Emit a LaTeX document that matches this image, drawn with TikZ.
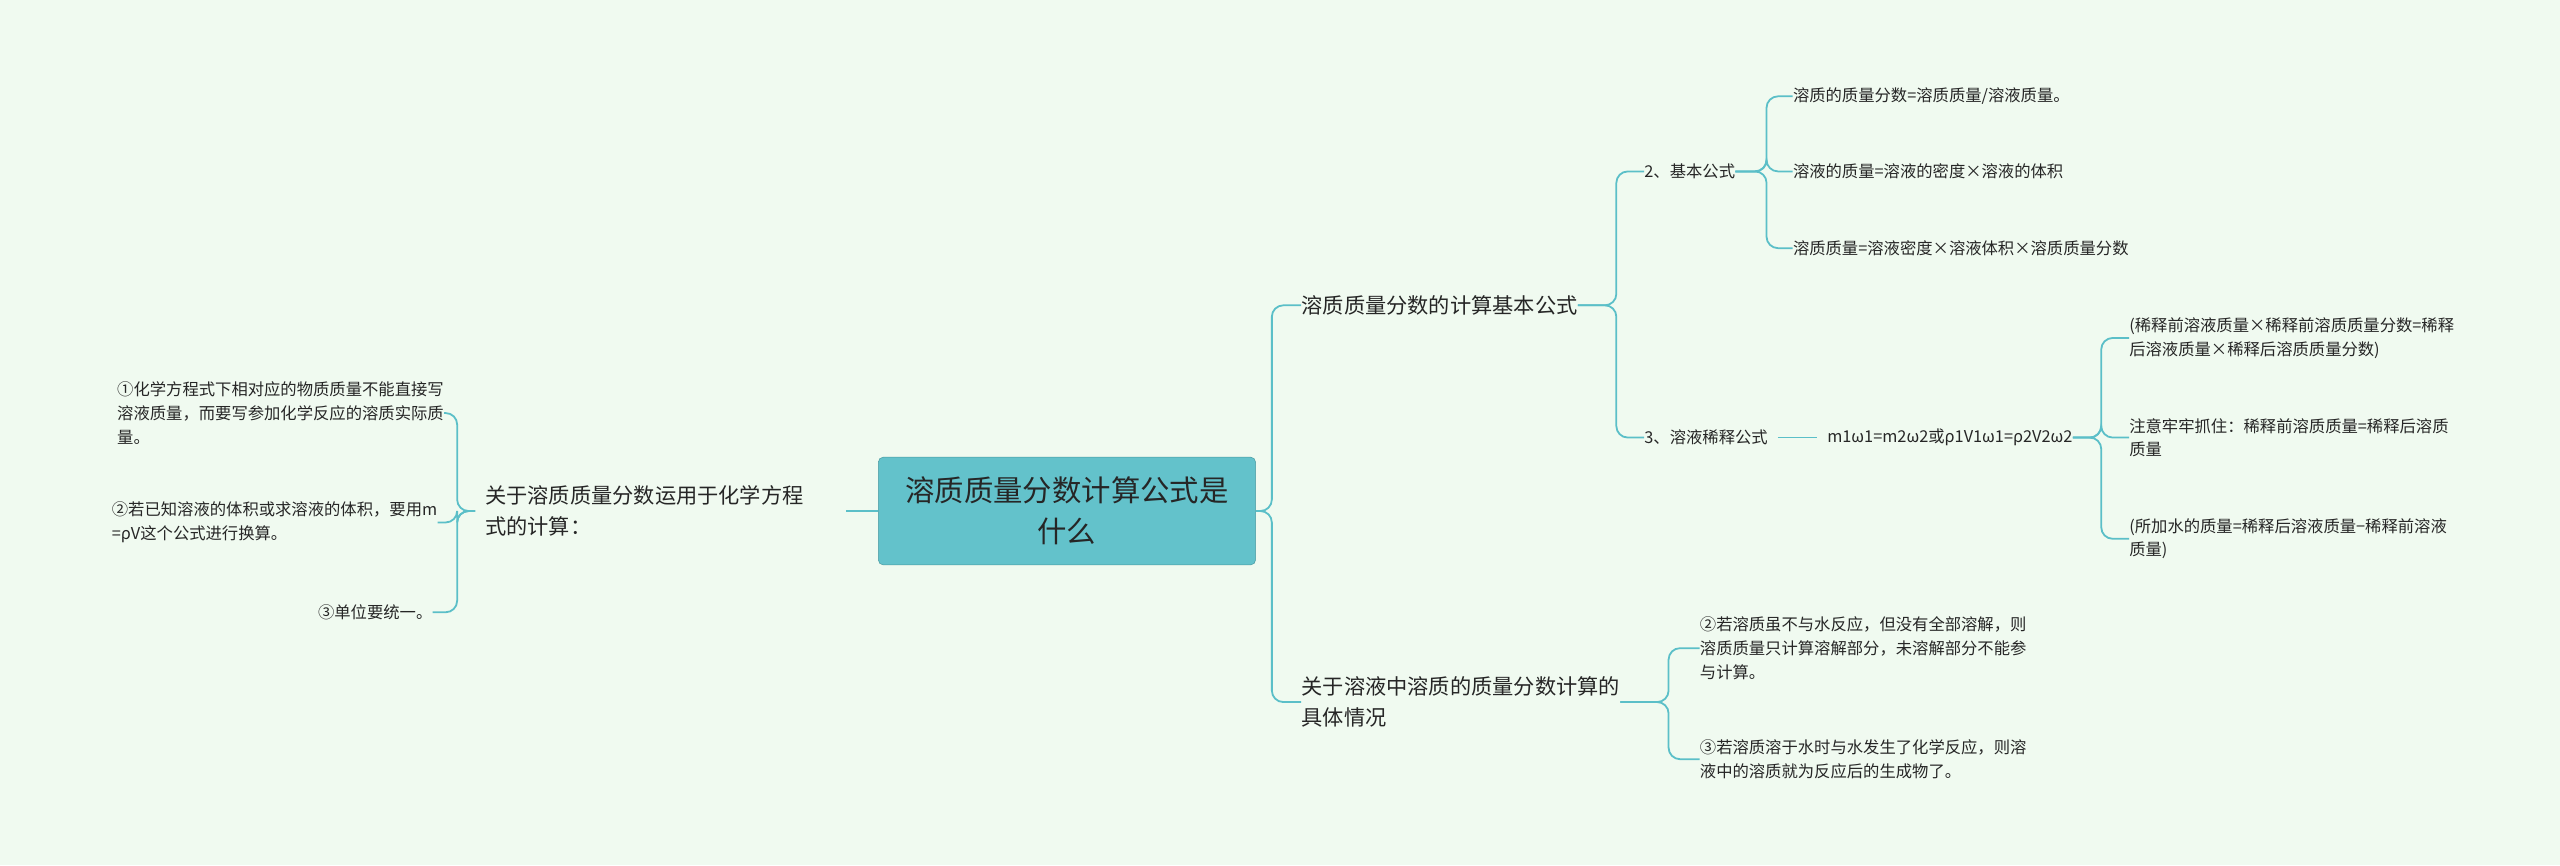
\documentclass[tikz,border=0pt]{standalone}
\usepackage{fontspec}
\setmainfont{Noto Sans CJK SC}
\begin{document}
\begin{tikzpicture}[x=1pt,y=-1pt,
 ln/.style={draw=lc,line width=1.1pt,rounded corners=7pt},
 sm/.style={font=\fontsize{10}{14.5}\selectfont,inner sep=0pt,align=left,text=black!85},
 md/.style={font=\fontsize{13}{19}\selectfont,inner sep=0pt,align=left,text=black!85}]
\definecolor{lc}{HTML}{5BBFC8}
\definecolor{bg}{HTML}{F0FAF0}
\fill[bg] (0,0) rectangle (1568,530);
\useasboundingbox (0,0) rectangle (1568,530);
\node[fill=lc!95!white,draw=lc!80!black,line width=0.3pt,rounded corners=3pt,minimum width=231,minimum height=66,align=center,font=\fontsize{18}{25}\selectfont,text=black!85] (c) at (653.5,313) {溶质质量分数计算公式是\\什么};
% left
\node[md,anchor=west] (L) at (297,313) {关于溶质质量分数运用于化学方程\\式的计算：};
\node[sm,anchor=east] (L1) at (272,253) {①化学方程式下相对应的物质质量不能直接写\\溶液质量，而要写参加化学反应的溶质实际质\\量。};
\node[sm,anchor=east] (L2) at (268,320) {②若已知溶液的体积或求溶液的体积，要用m\\=ρV这个公式进行换算。};
\node[sm,anchor=east] (L3) at (265,375) {③单位要统一。};
\draw[ln] (c.west) -- (518,313);
\foreach \n in {L1,L2,L3}{\draw[ln] ([xshift=-6pt]L.west) -- (280,313) |- (\n.east);}
% right
\node[md,anchor=west] (R1) at (797,187) {溶质质量分数的计算基本公式};
\node[md,anchor=west] (R2) at (797,430) {关于溶液中溶质的质量分数计算的\\具体情况};
\draw[ln] (c.east) -- (779,313) |- (R1.west);
\draw[ln] (c.east) -- (779,313) |- (R2.west);
\node[sm,anchor=west] (A) at (1007,105) {2、基本公式};
\node[sm,anchor=west] (B) at (1007,268) {3、溶液稀释公式};
\draw[ln] (R1.east) -- (990,187) |- (A.west);
\draw[ln] (R1.east) -- (990,187) |- (B.west);
\node[sm,anchor=west] (A1) at (1098,59) {溶质的质量分数=溶质质量/溶液质量。};
\node[sm,anchor=west] (A2) at (1098,105) {溶液的质量=溶液的密度×溶液的体积};
\node[sm,anchor=west] (A3) at (1098,152) {溶质质量=溶液密度×溶液体积×溶质质量分数};
\foreach \n in {A1,A2,A3}{\draw[ln] (A.east) -- (1082,105) |- (\n.west);}
\node[sm,anchor=west] (M) at (1119,268) {m1ω1=m2ω2或ρ1V1ω1=ρ2V2ω2};
\draw[ln] ([xshift=6pt]B.east) -- ([xshift=-6pt]M.west);
\node[sm,anchor=west] (B1) at (1304,207) {(稀释前溶液质量×稀释前溶质质量分数=稀释\\后溶液质量×稀释后溶质质量分数)};
\node[sm,anchor=west] (B2) at (1304,268) {注意牢牢抓住：稀释前溶质质量=稀释后溶质\\质量};
\node[sm,anchor=west] (B3) at (1304,330) {(所加水的质量=稀释后溶液质量−稀释前溶液\\质量)};
\foreach \n in {B1,B2,B3}{\draw[ln] (M.east) -- (1287,268) |- (\n.west);}
\node[sm,anchor=west] (C1) at (1041,397) {②若溶质虽不与水反应，但没有全部溶解，则\\溶质质量只计算溶解部分，未溶解部分不能参\\与计算。};
\node[sm,anchor=west] (C2) at (1041,465) {③若溶质溶于水时与水发生了化学反应，则溶\\液中的溶质就为反应后的生成物了。};
\foreach \n in {C1,C2}{\draw[ln] (R2.east) -- (1022,430) |- (\n.west);}
\end{tikzpicture}
\end{document}
